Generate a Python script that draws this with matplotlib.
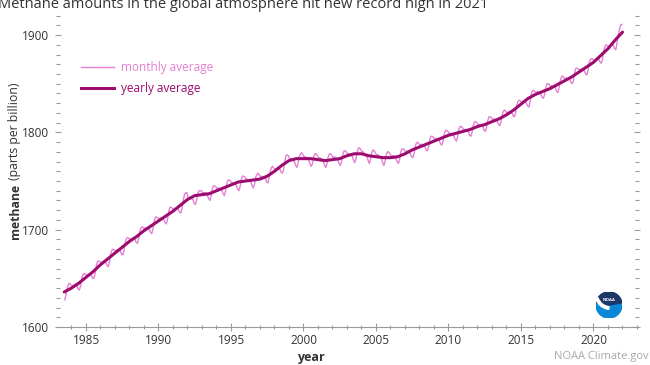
import matplotlib.pyplot as plt
from matplotlib.patches import Circle, Wedge
from matplotlib.lines import Line2D

plt.rcParams['font.family'] = ['Open Sans', 'DejaVu Sans']

# global monthly methane (ppb), one row per year, 1983 starts in July
first_year = 1983
monthly_ppb = [
    [1628, 1633, 1640, 1644, 1645, 1643],
    [1642, 1643, 1643, 1643, 1642, 1639, 1638, 1642, 1650, 1654, 1655, 1654],
    [1653, 1654, 1654, 1654, 1653, 1650, 1650, 1655, 1663, 1667, 1668, 1667],
    [1666, 1667, 1667, 1667, 1666, 1663, 1662, 1667, 1675, 1679, 1680, 1679],
    [1678, 1679, 1679, 1679, 1678, 1675, 1674, 1679, 1687, 1691, 1692, 1691],
    [1690, 1691, 1691, 1691, 1690, 1687, 1686, 1690, 1698, 1702, 1703, 1702],
    [1701, 1702, 1702, 1702, 1700, 1697, 1696, 1701, 1709, 1713, 1713, 1712],
    [1711, 1712, 1712, 1712, 1710, 1707, 1706, 1711, 1719, 1723, 1723, 1722],
    [1721, 1722, 1722, 1722, 1721, 1718, 1717, 1722, 1730, 1736, 1738, 1738],
    [1733, 1733, 1733, 1732, 1731, 1727, 1726, 1730, 1737, 1740, 1740, 1740],
    [1738, 1738, 1738, 1737, 1735, 1732, 1730, 1734, 1742, 1745, 1745, 1744],
    [1742, 1743, 1742, 1742, 1740, 1737, 1735, 1740, 1747, 1751, 1751, 1750],
    [1748, 1748, 1748, 1747, 1745, 1742, 1740, 1744, 1752, 1755, 1755, 1754],
    [1752, 1752, 1751, 1750, 1749, 1745, 1743, 1747, 1754, 1757, 1758, 1756],
    [1754, 1755, 1753, 1754, 1753, 1749, 1748, 1753, 1760, 1764, 1765, 1763],
    [1762, 1763, 1763, 1763, 1762, 1759, 1758, 1762, 1770, 1776, 1777, 1776],
    [1773, 1773, 1772, 1771, 1770, 1766, 1764, 1768, 1775, 1778, 1779, 1777],
    [1775, 1775, 1774, 1773, 1771, 1767, 1765, 1768, 1775, 1778, 1778, 1776],
    [1774, 1774, 1773, 1772, 1770, 1766, 1764, 1768, 1775, 1778, 1778, 1776],
    [1774, 1775, 1774, 1773, 1771, 1768, 1766, 1770, 1777, 1781, 1781, 1780],
    [1778, 1778, 1777, 1777, 1775, 1771, 1769, 1773, 1780, 1784, 1784, 1782],
    [1780, 1780, 1778, 1777, 1775, 1771, 1768, 1772, 1779, 1782, 1781, 1779],
    [1777, 1777, 1776, 1775, 1773, 1769, 1766, 1770, 1777, 1780, 1780, 1778],
    [1776, 1776, 1776, 1775, 1773, 1770, 1768, 1772, 1780, 1783, 1783, 1782],
    [1780, 1781, 1780, 1780, 1778, 1775, 1774, 1778, 1786, 1789, 1790, 1788],
    [1787, 1788, 1787, 1787, 1785, 1782, 1781, 1785, 1792, 1796, 1796, 1795],
    [1793, 1794, 1793, 1793, 1791, 1788, 1787, 1791, 1798, 1802, 1802, 1801],
    [1799, 1799, 1799, 1798, 1796, 1793, 1791, 1795, 1803, 1806, 1806, 1805],
    [1803, 1803, 1803, 1802, 1801, 1797, 1796, 1800, 1807, 1811, 1811, 1810],
    [1808, 1808, 1808, 1807, 1806, 1802, 1801, 1805, 1812, 1816, 1816, 1815],
    [1813, 1814, 1813, 1813, 1811, 1808, 1807, 1811, 1818, 1822, 1823, 1821],
    [1820, 1821, 1820, 1821, 1820, 1817, 1816, 1820, 1828, 1832, 1833, 1832],
    [1831, 1832, 1832, 1831, 1830, 1827, 1826, 1831, 1839, 1843, 1843, 1842],
    [1841, 1842, 1841, 1841, 1839, 1836, 1835, 1839, 1846, 1850, 1850, 1849],
    [1847, 1848, 1846, 1847, 1846, 1842, 1841, 1846, 1853, 1857, 1858, 1856],
    [1855, 1856, 1855, 1855, 1854, 1851, 1850, 1854, 1862, 1866, 1866, 1865],
    [1864, 1865, 1865, 1864, 1863, 1860, 1859, 1864, 1872, 1875, 1876, 1875],
    [1874, 1875, 1875, 1876, 1875, 1872, 1871, 1876, 1884, 1888, 1890, 1889],
    [1888, 1889, 1890, 1890, 1889, 1886, 1885, 1892, 1900, 1906, 1910, 1911],
]

# smoothed yearly average (trend), sampled every half year
trend_years = [1983.5, 1984.0, 1984.5, 1985.0, 1985.5, 1986.0, 1986.5, 1987.0, 1987.5,
               1988.0, 1988.5, 1989.0, 1989.5, 1990.0, 1990.5, 1991.0, 1991.5, 1992.0,
               1992.5, 1993.0, 1993.5, 1994.0, 1994.5, 1995.0, 1995.5, 1996.0, 1996.5,
               1997.0, 1997.5, 1998.0, 1998.5, 1999.0, 1999.5, 2000.0, 2000.5, 2001.0,
               2001.5, 2002.0, 2002.5, 2003.0, 2003.5, 2004.0, 2004.5, 2005.0, 2005.5,
               2006.0, 2006.5, 2007.0, 2007.5, 2008.0, 2008.5, 2009.0, 2009.5, 2010.0,
               2010.5, 2011.0, 2011.5, 2012.0, 2012.5, 2013.0, 2013.5, 2014.0, 2014.5,
               2015.0, 2015.5, 2016.0, 2016.5, 2017.0, 2017.5, 2018.0, 2018.5, 2019.0,
               2019.5, 2020.0, 2020.5, 2021.0, 2021.5, 2022.0]
trend_ppb = [1636, 1640, 1645, 1651, 1657, 1664, 1670, 1676, 1682,
             1688, 1693, 1699, 1704, 1709, 1714, 1719, 1725, 1731,
             1735, 1736, 1737, 1740, 1743, 1746, 1749, 1750, 1751,
             1752, 1755, 1760, 1766, 1771, 1773, 1773, 1773, 1772,
             1771, 1772, 1773, 1776, 1778, 1778, 1776, 1775, 1774,
             1774, 1775, 1778, 1782, 1785, 1788, 1791, 1794, 1797,
             1799, 1801, 1803, 1806, 1808, 1811, 1814, 1818, 1823,
             1829, 1835, 1839, 1842, 1845, 1849, 1853, 1857, 1862,
             1867, 1872, 1879, 1886, 1895, 1903]

x_ticks = [1985, 1990, 1995, 2000, 2005, 2010, 2015, 2020]
y_ticks = [1600, 1700, 1800, 1900]

c_month = '#e57fd3'
c_year = '#9c0c6e'
c_text = '#333333'
c_axis = '#9a9a9a'

# flatten monthly rows to (time, value)
t_month, v_month = [], []
for i, row in enumerate(monthly_ppb):
    start = 12 - len(row)
    for j, v in enumerate(row):
        t_month.append(first_year + i + (start + j + 0.5) / 12)
        v_month.append(v)

fig = plt.figure(figsize=(6.5, 3.65), dpi=100)
ax = fig.add_axes([58 / 650, 1 - 327 / 365, 579 / 650, 311.4 / 365])

ax.plot(t_month, v_month, color=c_month, lw=1.0)
ax.plot(trend_years, trend_ppb, color=c_year, lw=2.2, solid_capstyle='round')

ax.set_xlim(1983.07, 2023.0)
ax.set_ylim(1600, 1920)
ax.set_xticks(x_ticks)
ax.set_xticks(range(1984, 2024), minor=True)
ax.set_yticks(y_ticks)
ax.set_yticks(range(1600, 1921, 10), minor=True)

for s in ['top', 'left', 'right']:
    ax.spines[s].set_visible(False)
ax.spines['bottom'].set_color(c_axis)
ax.spines['bottom'].set_linewidth(0.8)

ax.tick_params(axis='x', which='major', direction='inout', length=6, width=0.8,
               color=c_axis, labelsize=8.5, labelcolor=c_text, pad=2)
ax.tick_params(axis='x', which='minor', direction='inout', length=3, width=0.8,
               color=c_axis)
ax.tick_params(axis='y', which='major', direction='inout', length=5, width=0.8,
               color=c_axis, labelsize=8.5, labelcolor=c_text, pad=4,
               right=True)
ax.tick_params(axis='y', which='minor', direction='inout', length=3, width=0.8,
               color=c_axis, right=True)

fig.text(311 / 650, 1 - 358 / 365, 'year', ha='center', va='center',
         fontsize=9, fontweight='bold', color=c_text)

# y label: bold "methane" followed by normal "(parts per billion)"
t1 = fig.text(15 / 650, 1 - 239 / 365, 'methane', rotation=90, ha='center', va='bottom',
              fontsize=8.8, fontweight='bold', color=c_text)
fig.canvas.draw()
top_px = t1.get_window_extent().y1
fig.text(15 / 650, (top_px + 4) / 365, '(parts per billion)', rotation=90, ha='center',
         va='bottom', fontsize=8.8, color=c_text)

handles = [Line2D([], [], color=c_month, lw=1.0), Line2D([], [], color=c_year, lw=2.2)]
ax.legend(handles, ['monthly average', 'yearly average'], loc='upper left',
          bbox_to_anchor=(0.04, 0.853), frameon=False, fontsize=8.5,
          labelcolor=[c_month, c_year], handlelength=2.8, handletextpad=0.6,
          borderpad=0, borderaxespad=0, labelspacing=0.68)

fig.text(-0.003, 1 - 8 / 365, 'Methane amounts in the global atmosphere hit new record high in 2021',
         ha='left', va='baseline', fontsize=10.5, color=c_text)

fig.text(0.998, 1 - 357 / 365, 'NOAA Climate.gov', ha='right', va='center',
         fontsize=8, color='#a8a8a8')

# NOAA logo
lx, ly, r = 609, 305, 13
logo = fig.add_axes([(lx - r) / 650, 1 - (ly + r) / 365, 2 * r / 650, 2 * r / 365])
logo.set_xlim(-1, 1)
logo.set_ylim(-1, 1)
logo.axis('off')
logo.add_patch(Circle((0, 0), 1, color='#0a87d6'))
logo.add_patch(Wedge((0, 0), 1, 10, 170, color='#1d3766'))
logo.add_patch(Wedge((0.15, 0.9), 1.25, 200, 262, width=0.2, color='white'))
logo.text(0, 0.42, 'NOAA', ha='center', va='center', fontsize=3.2, color='white',
          fontweight='bold')

fig.savefig('out.png', dpi=100)
